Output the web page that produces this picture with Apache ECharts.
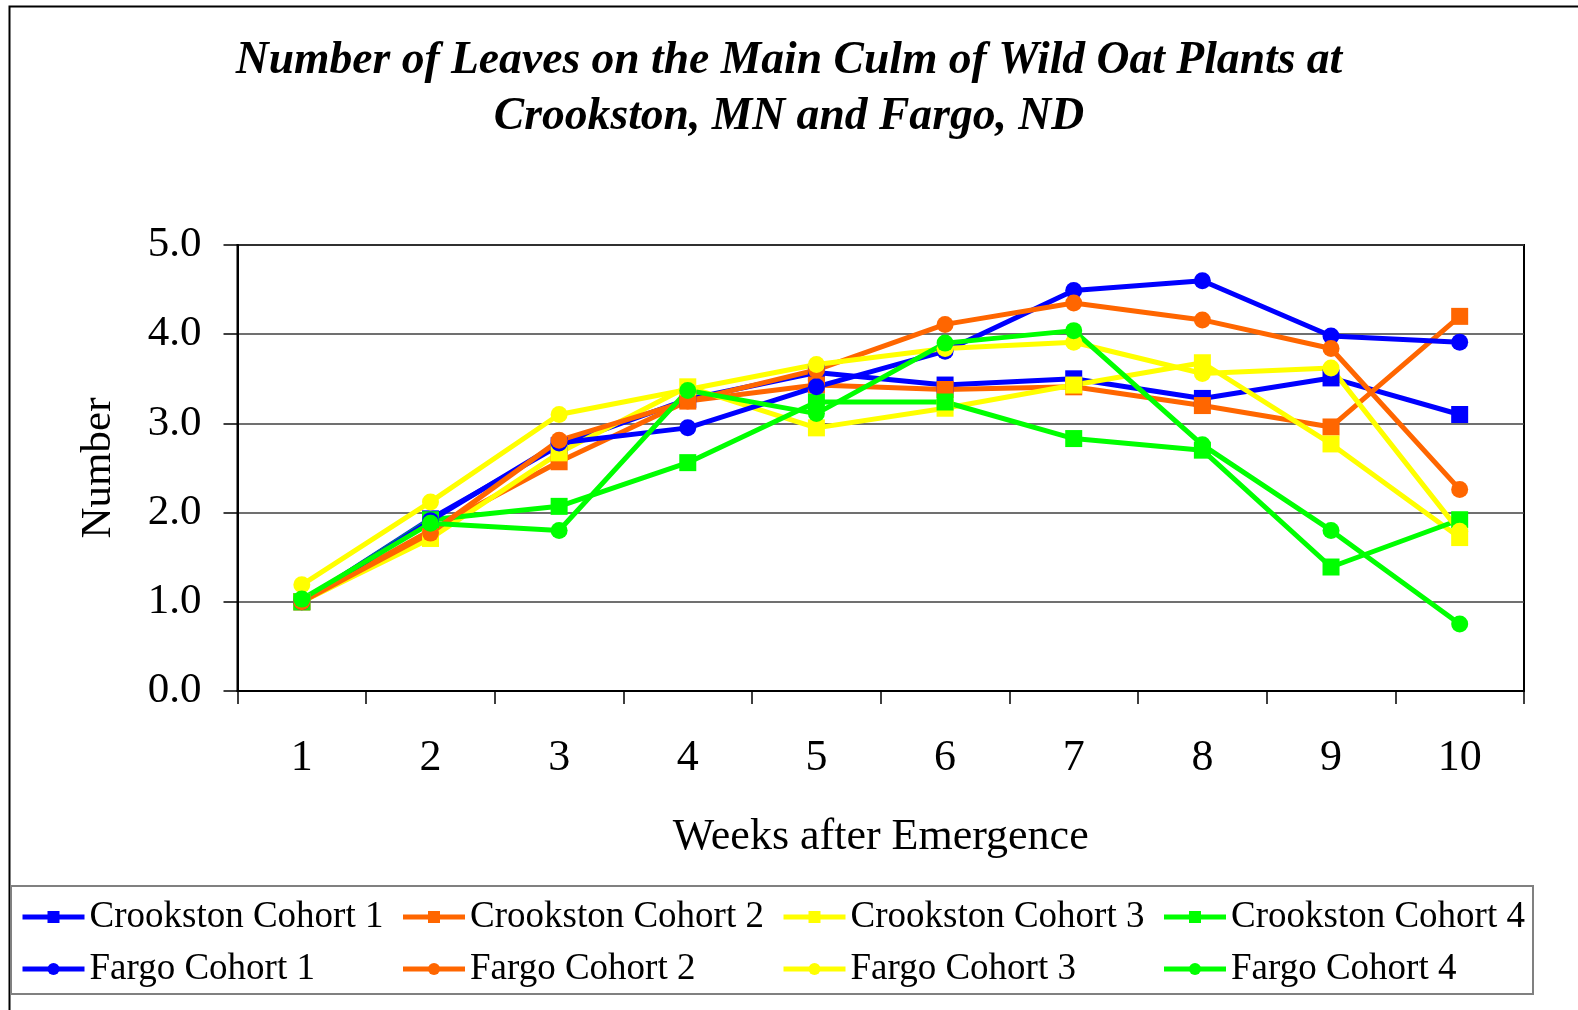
<!DOCTYPE html>
<html>
<head>
<meta charset="utf-8">
<script src="https://cdn.jsdelivr.net/npm/echarts@6/dist/echarts.min.js"></script>
<style>
html, body { margin: 0; padding: 0; background: #fff; }
#chart { width: 1578px; height: 1010px; }
</style>
</head>
<body>
<div id="chart"></div>
<script>
// weeks after emergence
const weeks = ['1', '2', '3', '4', '5', '6', '7', '8', '9', '10'];
const yTicks = [0, 1, 2, 3, 4, 5];

// values
const crookston1 = [1.00, 1.93, 2.75, 3.27, 3.57, 3.43, 3.50, 3.28, 3.51, 3.10];
const crookston2 = [1.00, 1.80, 2.57, 3.25, 3.43, 3.38, 3.41, 3.20, 2.96, 4.20];
const crookston3 = [1.00, 1.71, 2.67, 3.41, 2.95, 3.17, 3.43, 3.68, 2.77, 1.72];
const crookston4 = [1.00, 1.92, 2.07, 2.56, 3.24, 3.24, 2.83, 2.70, 1.39, 1.92];
const fargo1 = [1.00, 1.91, 2.78, 2.95, 3.41, 3.81, 4.49, 4.60, 3.98, 3.91];
const fargo2 = [1.00, 1.77, 2.81, 3.25, 3.60, 4.11, 4.35, 4.16, 3.84, 2.26];
const fargo3 = [1.19, 2.12, 3.10, 3.38, 3.66, 3.84, 3.91, 3.56, 3.62, 1.79];
const fargo4 = [1.03, 1.88, 1.80, 3.37, 3.11, 3.90, 4.04, 2.76, 1.80, 0.75];

const FONT = "'Liberation Serif', 'Times New Roman', serif";
const BLUE = '#0000ff', ORANGE = '#ff6600', YELLOW = '#ffff00', GREEN = '#00ff00';

const mk = (name, data, color, symbol) => ({
    name: name,
    type: 'line',
    data: data,
    symbol: symbol,
    symbolSize: 17,
    showAllSymbol: true,
    itemStyle: { color: color, borderWidth: 0 },
    lineStyle: { color: color, width: 5 },
    emphasis: { disabled: true }
});

const chart = echarts.init(document.getElementById('chart'));
chart.setOption({
    animation: false,
    backgroundColor: '#fff',
    title: {
        text: 'Number of Leaves on the Main Culm of Wild Oat Plants at\nCrookston, MN and Fargo, ND',
        left: 'center',
        top: 28,
        textStyle: {
            fontFamily: FONT,
            fontSize: 45.6,
            fontWeight: 'bold',
            fontStyle: 'italic',
            color: '#000',
            lineHeight: 56
        }
    },
    graphic: [{
        type: 'rect',
        left: 7,
        top: 4,
        shape: { width: 1600, height: 1100 },
        style: { fill: 'none', stroke: '#000', lineWidth: 2 },
        silent: true
    }],
    legend: {
        left: 11,
        top: 886,
        width: 1540,
        padding: [12, 5, 6, 9],
        borderColor: '#808080',
        borderWidth: 2,
        itemWidth: 62,
        itemHeight: 15,
        itemGap: 14,
        lineStyle: { width: 5 },
        textStyle: {
            fontFamily: FONT,
            fontSize: 37,
            color: '#000',
            width: 297,
            height: 38,
            lineHeight: 38
        }
    },
    grid: {
        left: 237.5,
        right: 54,
        top: 245,
        bottom: 319,
        show: true,
        borderColor: '#000',
        borderWidth: 2
    },
    xAxis: {
        type: 'category',
        data: weeks,
        boundaryGap: true,
        name: 'Weeks after Emergence',
        nameLocation: 'middle',
        nameGap: 124,
        nameTextStyle: { fontFamily: FONT, fontSize: 44, color: '#000' },
        axisLine: { lineStyle: { color: '#000', width: 2 } },
        axisTick: { show: true, length: 13, interval: 0, lineStyle: { color: '#000', width: 1.5 } },
        axisLabel: { fontFamily: FONT, fontSize: 44, color: '#000', margin: 45, interval: 0 }
    },
    yAxis: {
        type: 'value',
        min: yTicks[0],
        max: yTicks[yTicks.length - 1],
        interval: 1,
        name: 'Number',
        nameLocation: 'middle',
        nameGap: 117,
        nameTextStyle: { fontFamily: FONT, fontSize: 43, color: '#000' },
        axisLine: { show: true, lineStyle: { color: '#000', width: 2 } },
        axisTick: { show: true, length: 14, lineStyle: { color: '#000', width: 1.5 } },
        axisLabel: {
            fontFamily: FONT, fontSize: 43, color: '#000', margin: 36,
            formatter: v => v.toFixed(1)
        },
        splitLine: { show: true, lineStyle: { color: '#404040', width: 1.5 } }
    },
    series: [
        mk('Crookston Cohort 1', crookston1, BLUE, 'rect'),
        mk('Crookston Cohort 2', crookston2, ORANGE, 'rect'),
        mk('Crookston Cohort 3', crookston3, YELLOW, 'rect'),
        mk('Crookston Cohort 4', crookston4, GREEN, 'rect'),
        mk('Fargo Cohort 1', fargo1, BLUE, 'circle'),
        mk('Fargo Cohort 2', fargo2, ORANGE, 'circle'),
        mk('Fargo Cohort 3', fargo3, YELLOW, 'circle'),
        mk('Fargo Cohort 4', fargo4, GREEN, 'circle')
    ]
});
</script>
</body>
</html>
